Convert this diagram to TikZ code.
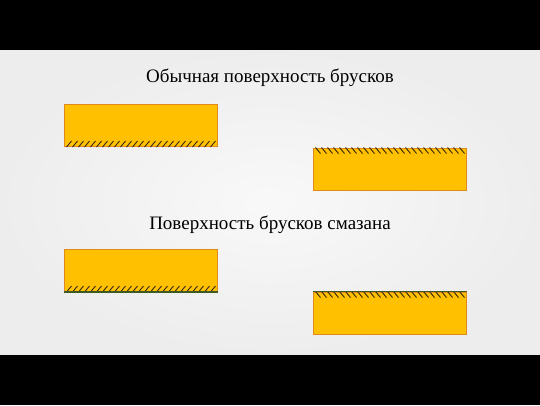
\documentclass[tikz,border=0pt]{standalone}
\usepackage{fontspec}
\setmainfont{Liberation Serif}
\begin{document}
\begin{tikzpicture}[x=1pt,y=-1pt,
  bar/.style={draw=barline, fill=barfill, line width=1.5pt, minimum width=153pt, minimum height=42pt, inner sep=0pt, anchor=north west},
  hatch/.style={draw=hatchcol, line width=0.9pt},
  grease/.style={draw=greasecol, line width=1.5pt},
  title/.style={font=\fontsize{19}{22}\selectfont, text=black}]
\definecolor{barfill}{HTML}{FFC000}
\definecolor{barline}{HTML}{E08A1E}
\definecolor{hatchcol}{HTML}{3A2A10}
\definecolor{greasecol}{HTML}{3E5A22}
\useasboundingbox (0,0) rectangle (540,405);
\fill[black] (0,0) rectangle (540,405);
\shade[inner color=white!95!gray, outer color=white!86!gray] (0,50) rectangle (540,354);
\node[title] (t1) at (270,78) {Обычная поверхность брусков};
\node[title] (t2) at (270,225) {Поверхность брусков смазана};
\node[bar] (b1) at (63.5,103.5) {};
\node[bar] (b2) at (312.5,147.5) {};
\node[bar] (b3) at (63.5,248.5) {};
\node[bar] (b4) at (312.5,291.5) {};
% hatches
\foreach \i in {0,...,24} {
  \draw[hatch] ([xshift=3+6*\i]b1.south west) -- ++(5,-6);
  \draw[hatch] ([xshift=3+6*\i]b3.south west) -- ++(5,-6);
  \draw[hatch] ([xshift=3+6*\i]b2.north west) -- ++(5,6);
  \draw[hatch] ([xshift=3+6*\i]b4.north west) -- ++(5,6);
}
\draw[grease] (b3.south west) -- (b3.south east);
\draw[grease] (b4.north west) -- (b4.north east);
\end{tikzpicture}
\end{document}
